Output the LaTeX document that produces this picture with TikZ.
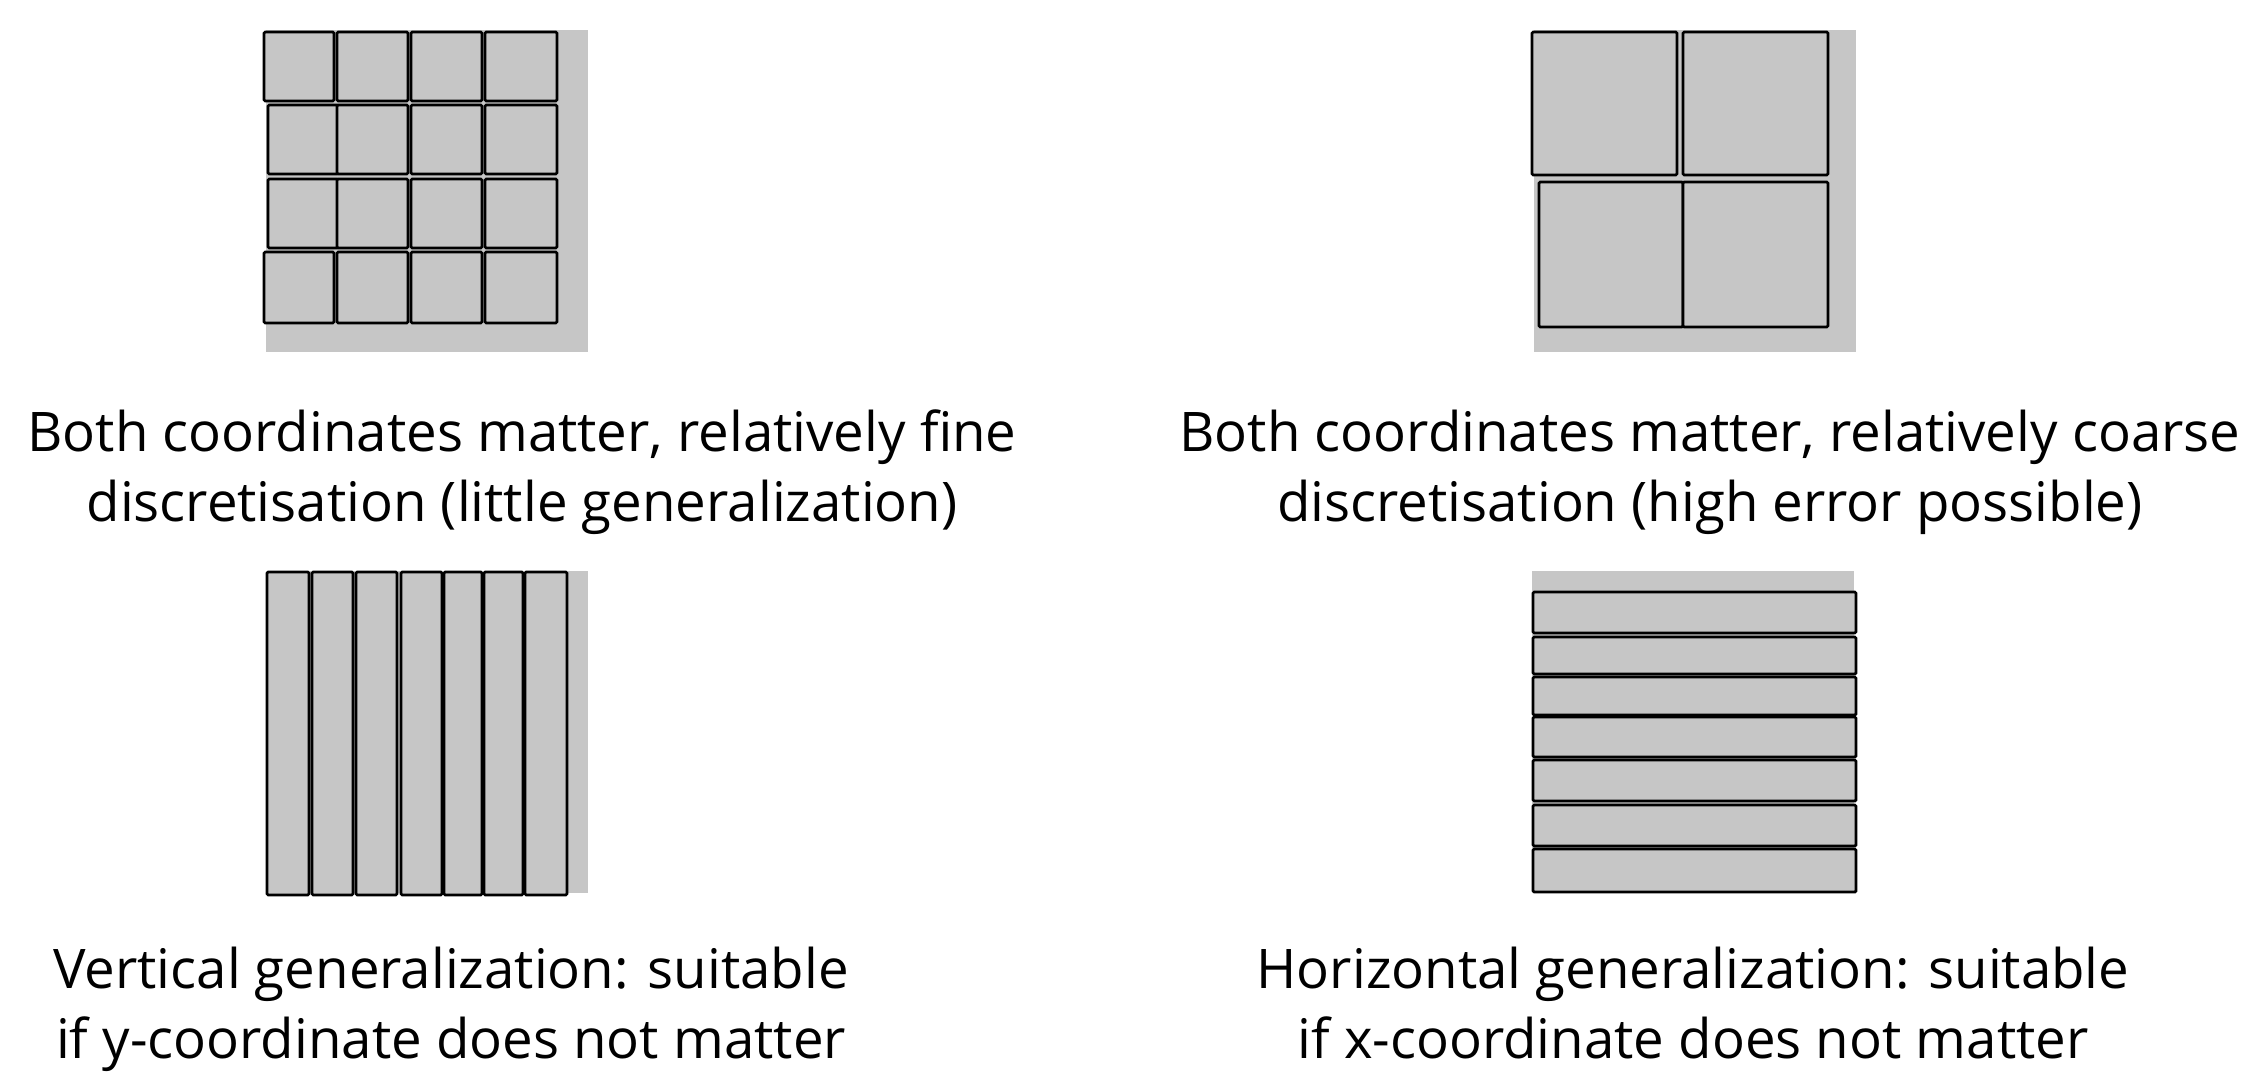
\documentclass[tikz,border=0pt]{standalone}
\usepackage{fontspec}
\setmainfont{Open Sans}
\definecolor{cellgray}{RGB}{198,198,198}
\begin{document}
\begin{tikzpicture}[x=0.5pt,y=-0.5pt,
  bg/.style={fill=cellgray,draw=none},
  cell/.style={fill=cellgray,draw=black,line width=1.35pt,rounded corners=0.6pt},
  captext/.style={anchor=base,inner sep=0pt,font=\fontsize{27.3}{31}\selectfont}]
\useasboundingbox (0,0) rectangle (2262,1086);
% ---------- top left: fine grid ----------
\fill[bg] (266,30) rectangle (588,352);
\foreach \ya/\yb/\xo in {32/101/264,105/174/268,179/248/268,252/323/264}{
  \draw[cell] (\xo,\ya) rectangle (334+\xo-264,\yb);
  \draw[cell] (337,\ya) rectangle (408,\yb);
  \draw[cell] (411,\ya) rectangle (482,\yb);
  \draw[cell] (485,\ya) rectangle (557,\yb);
}
% ---------- top right: coarse grid ----------
\fill[bg] (1534,30) rectangle (1856,352);
\draw[cell] (1532,32) rectangle (1677,175);
\draw[cell] (1683,32) rectangle (1828,175);
\draw[cell] (1539,182) rectangle (1683,327);
\draw[cell] (1683,182) rectangle (1828,327);
% ---------- bottom left: vertical strips ----------
\fill[bg] (266,571) rectangle (588,893);
\foreach \xa/\xb in {267/309,312/353,356/397,401/442,444/482,484/523,525/567}{
  \draw[cell] (\xa,572) rectangle (\xb,895);
}
% ---------- bottom right: horizontal strips ----------
\fill[bg] (1532,571) rectangle (1854,893);
\foreach \ya/\yb in {592/633,637/674,677/715,717/757,760/801,805/846,849/892}{
  \draw[cell] (1533,\ya) rectangle (1856,\yb);
}
% ---------- captions ----------
\node[captext] (tl1) at (522,451) {Both coordinates matter, relatively fine};
\node[captext] (tl2) at (522,521) {discretisation (little generalization)};
\node[captext] (tr1) at (1710,451) {Both coordinates matter, relatively coarse};
\node[captext] (tr2) at (1710,521) {discretisation (high error possible)};
\node[captext] (bl1) at (451,988) {Vertical generalization: suitable};
\node[captext] (bl2) at (451,1058) {if y-coordinate does not matter};
\node[captext] (br1) at (1693,988) {Horizontal generalization: suitable};
\node[captext] (br2) at (1693,1058) {if x-coordinate does not matter};
\end{tikzpicture}
\end{document}
